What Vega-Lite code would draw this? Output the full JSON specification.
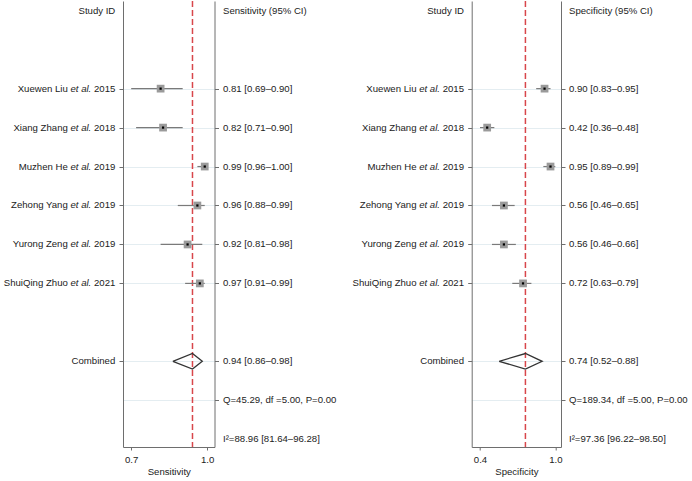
{
  "$schema": "https://vega.github.io/schema/vega-lite/v6.json",
  "padding": {"left": 3, "top": 0, "right": 0, "bottom": 0},
  "spacing": 256.7,
  "bounds": "flush",
  "config": {
    "view": {"stroke": null},
    "font": "Liberation Sans",
    "text": {"font": "Liberation Sans", "fontSize": 9.6, "color": "#222"},
    "axis": {"labelFont": "Liberation Sans", "titleFont": "Liberation Sans", "labelFontSize": 9.6, "titleFontSize": 9.6, "titleFontWeight": "normal", "labelColor": "#222", "titleColor": "#222", "domainColor": "#6e6e6e", "tickColor": "#6e6e6e", "domainWidth": 1, "tickWidth": 1},
    "axisX": {"grid": false, "tickSize": 3, "labelPadding": 4, "titlePadding": 3, "labelFlush": false, "format": ".1f"}
  },
  "datasets": {
    "sens": [
      {"row": 0, "label": "Study ID", "ci": "Sensitivity (95% CI)"},
      {"row": 2, "name": "Xuewen Liu", "year": "2015", "est": 0.81, "lo": 0.69, "hi": 0.90, "ci": "0.81 [0.69–0.90]"},
      {"row": 3, "name": "Xiang Zhang", "year": "2018", "est": 0.82, "lo": 0.71, "hi": 0.90, "ci": "0.82 [0.71–0.90]"},
      {"row": 4, "name": "Muzhen He", "year": "2019", "est": 0.99, "lo": 0.96, "hi": 1.00, "ci": "0.99 [0.96–1.00]"},
      {"row": 5, "name": "Zehong Yang", "year": "2019", "est": 0.96, "lo": 0.88, "hi": 0.99, "ci": "0.96 [0.88–0.99]"},
      {"row": 6, "name": "Yurong Zeng", "year": "2019", "est": 0.92, "lo": 0.81, "hi": 0.98, "ci": "0.92 [0.81–0.98]"},
      {"row": 7, "name": "ShuiQing Zhuo", "year": "2021", "est": 0.97, "lo": 0.91, "hi": 0.99, "ci": "0.97 [0.91–0.99]"},
      {"row": 9, "label": "Combined", "est": 0.94, "lo": 0.86, "hi": 0.98, "ci": "0.94 [0.86–0.98]"},
      {"row": 10, "ci": "Q=45.29, df =5.00, P=0.00"},
      {"row": 11, "ci": "I²=88.96 [81.64–96.28]"}
    ],
    "sensDiamond": [
      {"k": 0, "est": 0.86, "row": 9},
      {"k": 1, "est": 0.94, "row": 8.8},
      {"k": 2, "est": 0.98, "row": 9},
      {"k": 3, "est": 0.94, "row": 9.2},
      {"k": 4, "est": 0.86, "row": 9}
    ],
    "spec": [
      {"row": 0, "label": "Study ID", "ci": "Specificity (95% CI)"},
      {"row": 2, "name": "Xuewen Liu", "year": "2015", "est": 0.90, "lo": 0.83, "hi": 0.95, "ci": "0.90 [0.83–0.95]"},
      {"row": 3, "name": "Xiang Zhang", "year": "2018", "est": 0.42, "lo": 0.36, "hi": 0.48, "ci": "0.42 [0.36–0.48]"},
      {"row": 4, "name": "Muzhen He", "year": "2019", "est": 0.95, "lo": 0.89, "hi": 0.99, "ci": "0.95 [0.89–0.99]"},
      {"row": 5, "name": "Zehong Yang", "year": "2019", "est": 0.56, "lo": 0.46, "hi": 0.65, "ci": "0.56 [0.46–0.65]"},
      {"row": 6, "name": "Yurong Zeng", "year": "2019", "est": 0.56, "lo": 0.46, "hi": 0.66, "ci": "0.56 [0.46–0.66]"},
      {"row": 7, "name": "ShuiQing Zhuo", "year": "2021", "est": 0.72, "lo": 0.63, "hi": 0.79, "ci": "0.72 [0.63–0.79]"},
      {"row": 9, "label": "Combined", "est": 0.74, "lo": 0.52, "hi": 0.88, "ci": "0.74 [0.52–0.88]"},
      {"row": 10, "ci": "Q=189.34, df =5.00, P=0.00"},
      {"row": 11, "ci": "I²=97.36 [96.22–98.50]"}
    ],
    "specDiamond": [
      {"k": 0, "est": 0.52, "row": 9},
      {"k": 1, "est": 0.74, "row": 8.8},
      {"k": 2, "est": 0.88, "row": 9},
      {"k": 3, "est": 0.74, "row": 9.2},
      {"k": 4, "est": 0.52, "row": 9}
    ]
  },
  "hconcat": [
    {
      "width": 91.5,
      "height": 446,
      "resolve": {"axis": {"y": "independent"}},
      "layer": [
        {
          "data": {"name": "sens"},
          "transform": [{"filter": "datum.row == 9"}],
          "mark": {"type": "rule", "color": "#d8464b", "strokeWidth": 1.5, "strokeDash": [6, 3]},
          "encoding": {"x": {"field": "est", "type": "quantitative", "scale": {"domain": [0.6566, 1.0298], "nice": false, "zero": false}, "axis": {"values": [0.69, 1.0], "title": "Sensitivity"}}}
        },
        {
          "data": {"name": "sens"},
          "transform": [{"filter": "isValid(datum.name)"}],
          "mark": {"type": "rule", "color": "#7a7a7a", "strokeWidth": 1.2},
          "encoding": {
            "x": {"field": "lo", "type": "quantitative", "scale": {"domain": [0.6566, 1.0298], "nice": false, "zero": false}, "axis": {"values": [0.69, 1.0], "title": "Sensitivity"}},
            "x2": {"field": "hi"},
            "y": {"field": "row", "type": "quantitative", "scale": {"domain": [-0.25, 11.2], "reverse": true, "nice": false, "zero": false},
                  "axis": {"orient": "left", "values": [2, 3, 4, 5, 6, 7, 9, 10], "labels": false, "tickSize": 4, "title": null, "grid": true, "gridColor": "#e4edf1", "tickOpacity": {"condition": {"test": "datum.value == 10", "value": 0}, "value": 1}}}
          }
        },
        {
          "data": {"name": "sens"},
          "transform": [{"filter": "isValid(datum.name)"}],
          "mark": {"type": "point", "shape": "square", "filled": true, "color": "#9a9a9a", "opacity": 1, "size": 60},
          "encoding": {
            "x": {"field": "est", "type": "quantitative", "scale": {"domain": [0.6566, 1.0298], "nice": false, "zero": false}, "axis": {"values": [0.69, 1.0], "title": "Sensitivity"}},
            "y": {"field": "row", "type": "quantitative", "scale": {"domain": [-0.25, 11.2], "reverse": true, "nice": false, "zero": false}, "axis": null}
          }
        },
        {
          "data": {"name": "sens"},
          "transform": [{"filter": "isValid(datum.name)"}],
          "mark": {"type": "point", "shape": "square", "filled": true, "color": "#000", "opacity": 1, "size": 5},
          "encoding": {
            "x": {"field": "est", "type": "quantitative", "scale": {"domain": [0.6566, 1.0298], "nice": false, "zero": false}, "axis": {"values": [0.69, 1.0], "title": "Sensitivity"}},
            "y": {"field": "row", "type": "quantitative", "scale": {"domain": [-0.25, 11.2], "reverse": true, "nice": false, "zero": false}, "axis": null}
          }
        },
        {
          "data": {"name": "sensDiamond"},
          "mark": {"type": "line", "color": "#333", "strokeWidth": 1.3},
          "encoding": {
            "x": {"field": "est", "type": "quantitative", "scale": {"domain": [0.6566, 1.0298], "nice": false, "zero": false}, "axis": {"values": [0.69, 1.0], "title": "Sensitivity"}},
            "y": {"field": "row", "type": "quantitative", "scale": {"domain": [-0.25, 11.2], "reverse": true, "nice": false, "zero": false}, "axis": null},
            "order": {"field": "k", "type": "quantitative"}
          }
        },
        {
          "data": {"name": "sens"},
          "transform": [{"filter": "isValid(datum.name)"}],
          "mark": {"type": "text", "align": "right", "baseline": "middle", "dx": -55.2},
          "encoding": {
            "x": {"value": 0},
            "y": {"field": "row", "type": "quantitative", "scale": {"domain": [-0.25, 11.2], "reverse": true, "nice": false, "zero": false}, "axis": null},
            "text": {"field": "name"}
          }
        },
        {
          "data": {"name": "sens"},
          "transform": [{"filter": "isValid(datum.name)"}],
          "mark": {"type": "text", "align": "right", "baseline": "middle", "dx": -31.7, "fontStyle": "italic", "text": "et al."},
          "encoding": {
            "x": {"value": 0},
            "y": {"field": "row", "type": "quantitative", "scale": {"domain": [-0.25, 11.2], "reverse": true, "nice": false, "zero": false}, "axis": null}
          }
        },
        {
          "data": {"name": "sens"},
          "transform": [{"filter": "isValid(datum.name)"}],
          "mark": {"type": "text", "align": "right", "baseline": "middle", "dx": -7.7},
          "encoding": {
            "x": {"value": 0},
            "y": {"field": "row", "type": "quantitative", "scale": {"domain": [-0.25, 11.2], "reverse": true, "nice": false, "zero": false}, "axis": null},
            "text": {"field": "year"}
          }
        },
        {
          "data": {"name": "sens"},
          "transform": [{"filter": "isValid(datum.label)"}],
          "mark": {"type": "text", "align": "right", "baseline": "middle", "dx": -7.7},
          "encoding": {
            "x": {"value": 0},
            "y": {"field": "row", "type": "quantitative", "scale": {"domain": [-0.25, 11.2], "reverse": true, "nice": false, "zero": false}, "axis": null},
            "text": {"field": "label"}
          }
        },
        {
          "data": {"name": "sens"},
          "transform": [{"filter": "isValid(datum.ci)"}],
          "mark": {"type": "text", "align": "left", "baseline": "middle", "dx": 8.5},
          "encoding": {
            "x": {"value": "width"},
            "y": {"field": "row", "type": "quantitative", "scale": {"domain": [-0.25, 11.2], "reverse": true, "nice": false, "zero": false},
                  "axis": {"orient": "right", "values": [2, 3, 4, 5, 6, 7, 9, 10], "labels": false, "tickSize": 4, "title": null, "grid": false}},
            "text": {"field": "ci"}
          }
        }
      ]
    },
    {
      "width": 89.3,
      "height": 446,
      "resolve": {"axis": {"y": "independent"}},
      "layer": [
        {
          "data": {"name": "spec"},
          "transform": [{"filter": "datum.row == 9"}],
          "mark": {"type": "rule", "color": "#d8464b", "strokeWidth": 1.5, "strokeDash": [6, 3]},
          "encoding": {"x": {"field": "est", "type": "quantitative", "scale": {"domain": [0.2905, 1.0377], "nice": false, "zero": false}, "axis": {"values": [0.36, 0.99], "title": "Specificity"}}}
        },
        {
          "data": {"name": "spec"},
          "transform": [{"filter": "isValid(datum.name)"}],
          "mark": {"type": "rule", "color": "#7a7a7a", "strokeWidth": 1.2},
          "encoding": {
            "x": {"field": "lo", "type": "quantitative", "scale": {"domain": [0.2905, 1.0377], "nice": false, "zero": false}, "axis": {"values": [0.36, 0.99], "title": "Specificity"}},
            "x2": {"field": "hi"},
            "y": {"field": "row", "type": "quantitative", "scale": {"domain": [-0.25, 11.2], "reverse": true, "nice": false, "zero": false},
                  "axis": {"orient": "left", "values": [2, 3, 4, 5, 6, 7, 9, 10], "labels": false, "tickSize": 4, "title": null, "grid": true, "gridColor": "#e4edf1", "tickOpacity": {"condition": {"test": "datum.value == 10", "value": 0}, "value": 1}}}
          }
        },
        {
          "data": {"name": "spec"},
          "transform": [{"filter": "isValid(datum.name)"}],
          "mark": {"type": "point", "shape": "square", "filled": true, "color": "#9a9a9a", "opacity": 1, "size": 60},
          "encoding": {
            "x": {"field": "est", "type": "quantitative", "scale": {"domain": [0.2905, 1.0377], "nice": false, "zero": false}, "axis": {"values": [0.36, 0.99], "title": "Specificity"}},
            "y": {"field": "row", "type": "quantitative", "scale": {"domain": [-0.25, 11.2], "reverse": true, "nice": false, "zero": false}, "axis": null}
          }
        },
        {
          "data": {"name": "spec"},
          "transform": [{"filter": "isValid(datum.name)"}],
          "mark": {"type": "point", "shape": "square", "filled": true, "color": "#000", "opacity": 1, "size": 5},
          "encoding": {
            "x": {"field": "est", "type": "quantitative", "scale": {"domain": [0.2905, 1.0377], "nice": false, "zero": false}, "axis": {"values": [0.36, 0.99], "title": "Specificity"}},
            "y": {"field": "row", "type": "quantitative", "scale": {"domain": [-0.25, 11.2], "reverse": true, "nice": false, "zero": false}, "axis": null}
          }
        },
        {
          "data": {"name": "specDiamond"},
          "mark": {"type": "line", "color": "#333", "strokeWidth": 1.3},
          "encoding": {
            "x": {"field": "est", "type": "quantitative", "scale": {"domain": [0.2905, 1.0377], "nice": false, "zero": false}, "axis": {"values": [0.36, 0.99], "title": "Specificity"}},
            "y": {"field": "row", "type": "quantitative", "scale": {"domain": [-0.25, 11.2], "reverse": true, "nice": false, "zero": false}, "axis": null},
            "order": {"field": "k", "type": "quantitative"}
          }
        },
        {
          "data": {"name": "spec"},
          "transform": [{"filter": "isValid(datum.name)"}],
          "mark": {"type": "text", "align": "right", "baseline": "middle", "dx": -55.2},
          "encoding": {
            "x": {"value": 0},
            "y": {"field": "row", "type": "quantitative", "scale": {"domain": [-0.25, 11.2], "reverse": true, "nice": false, "zero": false}, "axis": null},
            "text": {"field": "name"}
          }
        },
        {
          "data": {"name": "spec"},
          "transform": [{"filter": "isValid(datum.name)"}],
          "mark": {"type": "text", "align": "right", "baseline": "middle", "dx": -31.7, "fontStyle": "italic", "text": "et al."},
          "encoding": {
            "x": {"value": 0},
            "y": {"field": "row", "type": "quantitative", "scale": {"domain": [-0.25, 11.2], "reverse": true, "nice": false, "zero": false}, "axis": null}
          }
        },
        {
          "data": {"name": "spec"},
          "transform": [{"filter": "isValid(datum.name)"}],
          "mark": {"type": "text", "align": "right", "baseline": "middle", "dx": -7.7},
          "encoding": {
            "x": {"value": 0},
            "y": {"field": "row", "type": "quantitative", "scale": {"domain": [-0.25, 11.2], "reverse": true, "nice": false, "zero": false}, "axis": null},
            "text": {"field": "year"}
          }
        },
        {
          "data": {"name": "spec"},
          "transform": [{"filter": "isValid(datum.label)"}],
          "mark": {"type": "text", "align": "right", "baseline": "middle", "dx": -7.7},
          "encoding": {
            "x": {"value": 0},
            "y": {"field": "row", "type": "quantitative", "scale": {"domain": [-0.25, 11.2], "reverse": true, "nice": false, "zero": false}, "axis": null},
            "text": {"field": "label"}
          }
        },
        {
          "data": {"name": "spec"},
          "transform": [{"filter": "isValid(datum.ci)"}],
          "mark": {"type": "text", "align": "left", "baseline": "middle", "dx": 8},
          "encoding": {
            "x": {"value": "width"},
            "y": {"field": "row", "type": "quantitative", "scale": {"domain": [-0.25, 11.2], "reverse": true, "nice": false, "zero": false},
                  "axis": {"orient": "right", "values": [2, 3, 4, 5, 6, 7, 9, 10], "labels": false, "tickSize": 4, "title": null, "grid": false}},
            "text": {"field": "ci"}
          }
        }
      ]
    }
  ]
}
